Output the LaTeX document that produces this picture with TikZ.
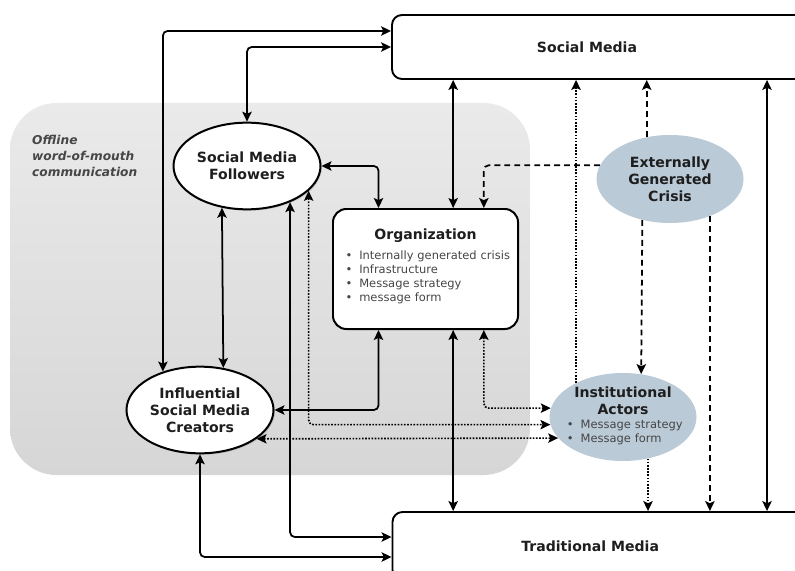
\documentclass[tikz,border=0pt]{standalone}
\usepackage{fontspec}
\setmainfont{DejaVu Sans}
\usetikzlibrary{arrows.meta,shapes.geometric,shadows}
\definecolor{crisisblue}{RGB}{187,202,215}
\definecolor{womtop}{RGB}{234,234,234}
\definecolor{wombot}{RGB}{214,214,214}
\definecolor{itemgray}{RGB}{70,70,70}
\definecolor{headgray}{RGB}{30,30,30}

\begin{document}
\begin{tikzpicture}[x=0.03cm,y=-0.03cm]
                \newcommand\headfont{\fontsize{12}{14.5}\selectfont\bfseries}
                \newcommand\itemfont{\fontsize{9.8}{12}\selectfont}
                \newcommand\bul{\makebox[1.2em][l]{\textbullet}}
                \tikzset{>={Stealth[length=8.5pt,width=8pt,inset=1.8pt]}}
                \tikzstyle{link}=[line width=1.5pt,rounded corners=4pt]
                \tikzstyle{dotlink}=[link,line width=1.4pt,dash pattern=on 1.4pt off 1.3pt]
                \tikzstyle{dashlink}=[link,dash pattern=on 5pt off 3.5pt]
                \tikzstyle{medium}=[draw,line width=1.6pt,rounded corners=0.3cm,fill=white,minimum width=13.14cm,minimum height=1.92cm]
                \tikzstyle{actor}=[ellipse,draw,line width=1.7pt,fill=white,inner sep=0pt,minimum width=4.41cm,minimum height=2.6cm,align=center,font=\headfont,text=headgray,drop shadow={shadow xshift=1.2pt,shadow yshift=-1.2pt,opacity=.3}]
                \tikzstyle{outside}=[ellipse,fill=crisisblue,inner sep=0pt,minimum width=4.41cm,minimum height=2.64cm,align=center,font=\headfont,text=headgray]
                \tikzstyle{orgbox}=[draw,line width=1.7pt,rounded corners=0.4cm,fill=white,minimum width=5.55cm,minimum height=3.6cm,inner xsep=0.2cm,text width=5.15cm]
                \useasboundingbox (0,0) rectangle (795,571);
                \fill[white] (0,0) rectangle (795,571);
                \shade[top color=womtop,bottom color=wombot,rounded corners=1.4cm] (10,103) rectangle (530,475);
                \node[anchor=west,align=left,inner sep=0pt,font=\fontsize{10.4}{13.4}\selectfont\bfseries\itshape,text=itemgray] (wom) at (32,156) {Offline\\word-of-mouth\\communication};
                \node[medium,label={[font=\headfont,text=headgray,xshift=-.72cm]center:Social Media}] (sm) at (611,47) {};
                \node[medium,minimum height=2.04cm,label={[font=\headfont,text=headgray,xshift=-.64cm]center:Traditional Media}] (tm) at (611.5,546) {};
                \node[actor] (fol) at (247,166) {Social Media\\Followers};
                \node[actor] (cre) at (200,410) {Influential\\Social Media\\Creators};
                \node[orgbox] (org) at (425.5,269) {{\centering\headfont\color{headgray}Organization\par}\vspace{5pt}%
                  \raggedright\itemfont\color{itemgray}\hspace*{5pt}\bul Internally generated crisis\\\hspace*{5pt}\bul Infrastructure\\\hspace*{5pt}\bul Message strategy\\\hspace*{5pt}\bul message form\rule[-7pt]{0pt}{7pt}};
                \node[outside] (cri) at (670,179) {Externally\\Generated\\Crisis};
                \node[outside] (ia) at (623,417) {};
                \node[inner sep=0pt,text width=4cm] (iatext) at ([yshift=.04cm]ia.center) {{\centering\headfont\color{headgray}Institutional\\Actors\par}%
                  \raggedright\fontsize{9.8}{11.5}\selectfont\color{itemgray}\hspace*{9pt}\bul Message strategy\\\hspace*{9pt}\bul Message form};
                \draw[link,<->] (cre.134) |- ([yshift=.48cm]sm.west);
                \draw[link,<->] (fol.north) |- (sm.west);
                \draw[link,<->] (fol.east) -| ([xshift=-1.41cm]org.north);
                \draw[link,<->] (fol.239) -- (cre.61);
                \draw[link,<->] (fol.320) |- ([yshift=.27cm]tm.west);
                \draw[dotlink,<->] (fol.338) |- (ia.186);
                \draw[link,<->] ([xshift=-1.41cm]org.south) |- (cre.east);
                \draw[dotlink,<->] (cre.333) -- (ia.198);
                \draw[link,<->] (cre.south) |- ([yshift=-.33cm]tm.west);
                \draw[link,<->] ([xshift=.83cm]org.north) -- ([xshift=.83cm]org.north |- sm.south);
                \draw[link,<->] ([xshift=.83cm]org.south) -- ([xshift=.83cm]org.south |- tm.north);
                \draw[dotlink,<->] ([xshift=1.75cm]org.south) |- (ia.173);
                \draw[dashlink,->] (cri.169) -| ([xshift=1.75cm]org.north);
                \draw[dotlink,->] (ia.144) -- (ia.144 |- sm.south);
                \draw[dashlink,->] (cri.119) -- (cri.119 |- sm.south);
                \draw[dashlink,->] (cri.236) -- (ia.67);
                \draw[dashlink,->] (cri.317) -- (cri.317 |- tm.north);
                \draw[dotlink,->] (ia.301) -- (ia.301 |- tm.north);
                \draw[link,<->] ([xshift=4.68cm]sm.south) -- ([xshift=4.68cm]sm.south |- tm.north);
            \end{tikzpicture}
\end{document}
